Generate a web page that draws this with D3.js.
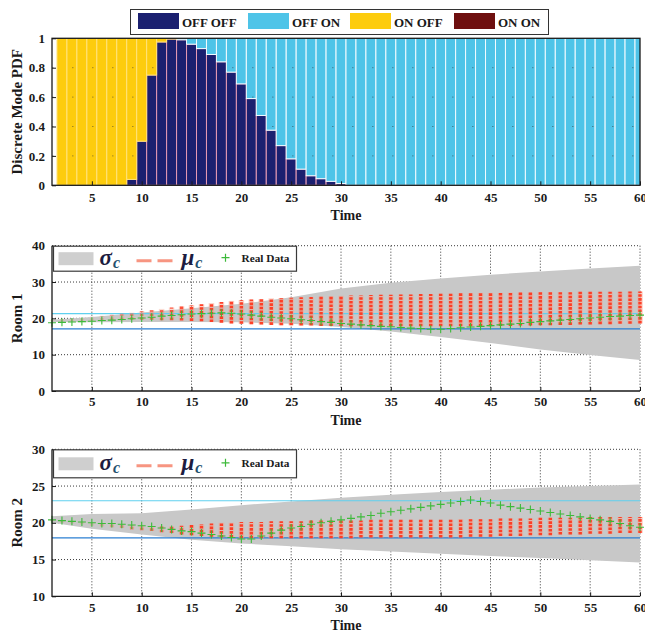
<!DOCTYPE html>
<html>
<head>
<meta charset="utf-8">
<script src="https://cdnjs.cloudflare.com/ajax/libs/d3/7.8.5/d3.min.js"></script>
<style>
  body { margin: 0; background: #fff; }
  text { font-family: "Liberation Serif", "DejaVu Serif", serif; font-weight: bold; fill: #1a1a1a; }
</style>
</head>
<body>
<div id="chart"></div>
<script>

// ---------- data : top chart (discrete mode pdf, bars at t = 2..60)
var barTime = [2,3,4,5,6,7,8,9,10,11,12,13,14,15,16,17,18,19,20,21,22,23,24,25,26,27,28,29,30,
  31,32,33,34,35,36,37,38,39,40,41,42,43,44,45,46,47,48,49,50,51,52,53,54,55,56,57,58,59,60];
var modeNames = ["OFF OFF", "OFF ON", "ON OFF", "ON ON"];
var offOff = [0,0,0,0,0,0,0,0.04,0.30,0.75,0.975,0.995,0.99,0.96,0.93,0.89,0.84,0.77,0.69,0.59,0.475,0.375,0.27,0.18,0.11,0.065,0.045,0.027,0.012,
  0,0,0,0,0,0,0,0,0,0,0,0,0,0,0,0,0,0,0,0,0,0,0,0,0,0,0,0,0,0];
var offOn = [0,0,0,0,0,0,0,0,0,0,0,0,0.01,0.04,0.07,0.11,0.16,0.23,0.31,0.41,0.525,0.625,0.73,0.82,0.89,0.935,0.955,0.973,0.988,
  1,1,1,1,1,1,1,1,1,1,1,1,1,1,1,1,1,1,1,1,1,1,1,1,1,1,1,1,1,1];
var onOff = [1,1,1,1,1,1,1,0.96,0.70,0.25,0.025,0.005,0,0,0,0,0,0,0,0,0,0,0,0,0,0,0,0,0,
  0,0,0,0,0,0,0,0,0,0,0,0,0,0,0,0,0,0,0,0,0,0,0,0,0,0,0,0,0,0];
var onOn = [0,0,0,0,0,0,0,0,0,0,0,0,0,0,0,0,0,0,0,0,0,0,0,0,0,0,0,0,0,
  0,0,0,0,0,0,0,0,0,0,0,0,0,0,0,0,0,0,0,0,0,0,0,0,0,0,0,0,0,0];

// ---------- data : room charts (t = 1..60)
var time = [1,2,3,4,5,6,7,8,9,10,11,12,13,14,15,16,17,18,19,20,21,22,23,24,25,26,27,28,29,30,
  31,32,33,34,35,36,37,38,39,40,41,42,43,44,45,46,47,48,49,50,51,52,53,54,55,56,57,58,59,60];
var xTicks = [5,10,15,20,25,30,35,40,45,50,55,60];

// sigma band read at these times
var bandTime = [1,5,10,15,20,25,30,35,40,45,50,55,60];
var sigHi1 = [19.6,20.4,21.6,22.8,24.0,25.8,28.2,29.8,31.0,32.0,32.9,33.7,34.5];
var sigLo1 = [19.0,18.9,19.0,19.0,18.9,18.5,17.6,16.4,14.9,13.2,11.4,9.9,8.5];
var sigHi2 = [20.9,21.2,21.3,21.8,22.4,22.9,23.4,23.8,24.2,24.5,24.8,25.0,25.2];
var sigLo2 = [20.0,19.2,18.4,17.7,17.2,16.8,16.4,16.1,15.8,15.5,15.2,14.9,14.6];

// spread of the mu_c dashes at every t
var muLo1 = [19.2,19.1,19.1,19.2,19.3,19.4,19.5,19.5,19.6,19.6,19.6,19.5,19.5,19.4,19.3,19.2,19.0,18.8,18.6,18.5,
  18.4,18.3,18.2,18.1,18.1,18.0,18.0,17.9,17.9,17.9,17.8,17.8,17.8,17.8,17.8,17.8,17.8,17.8,17.8,17.8,
  17.8,17.8,17.8,17.8,17.8,17.9,17.9,18.0,18.0,18.1,18.1,18.2,18.2,18.3,18.3,18.4,18.4,18.5,18.5,18.6];
var muHi1 = [19.5,19.8,20.0,20.2,20.5,20.7,21.0,21.3,21.6,22.0,22.3,22.6,23.0,23.3,23.6,23.9,24.2,24.5,24.8,25.0,
  25.2,25.3,25.5,25.6,25.7,25.8,25.9,26.0,26.1,26.2,26.3,26.3,26.4,26.5,26.5,26.6,26.6,26.7,26.7,26.8,
  26.8,26.9,26.9,27.0,27.0,27.0,27.1,27.1,27.1,27.2,27.2,27.2,27.2,27.3,27.3,27.3,27.3,27.3,27.4,27.4];
var muLo2 = [20.2,20.0,19.9,19.8,19.6,19.5,19.4,19.3,19.1,19.0,18.9,18.7,18.6,18.4,18.3,18.2,18.1,18.0,18.0,17.9,
  17.9,17.9,17.9,17.9,17.9,17.9,17.9,17.9,17.9,17.9,17.9,18.0,18.0,18.0,18.0,18.0,18.0,18.0,18.0,18.0,
  18.0,18.0,18.1,18.1,18.1,18.2,18.2,18.2,18.3,18.3,18.3,18.4,18.4,18.4,18.5,18.5,18.5,18.6,18.6,18.6];
var muHi2 = [20.4,20.4,20.3,20.2,20.1,20.0,19.9,19.8,19.7,19.6,19.5,19.5,19.5,19.6,19.7,19.8,19.9,20.0,20.0,20.1,
  20.1,20.1,20.2,20.2,20.2,20.2,20.3,20.3,20.3,20.3,20.3,20.3,20.4,20.4,20.4,20.4,20.4,20.4,20.4,20.4,
  20.4,20.5,20.5,20.5,20.5,20.6,20.6,20.6,20.6,20.7,20.7,20.7,20.7,20.7,20.8,20.8,20.8,20.8,20.8,20.8];

// measured temperatures
var real1 = [18.8,18.9,19.0,19.1,19.2,19.4,19.5,19.7,19.9,20.1,20.3,20.6,20.8,21.0,21.2,21.3,21.4,21.5,21.4,21.2,
  20.9,20.6,20.3,20.1,19.9,19.6,19.4,19.1,18.9,18.6,18.4,18.2,18.0,17.8,17.7,17.5,17.3,17.2,17.0,17.0,
  17.2,17.4,17.6,17.8,18.0,18.2,18.4,18.6,18.9,19.1,19.3,19.5,19.7,19.9,20.1,20.3,20.5,20.6,20.8,20.9];
var real2 = [20.4,20.3,20.2,20.1,20.0,19.9,19.9,19.8,19.7,19.6,19.5,19.3,19.1,18.9,18.8,18.6,18.4,18.2,18.0,17.8,
  17.8,18.2,18.6,19.0,19.3,19.5,19.8,20.0,20.2,20.4,20.6,20.8,21.0,21.3,21.5,21.7,21.9,22.1,22.3,22.5,
  22.7,22.9,23.1,22.9,22.7,22.4,22.2,22.0,21.8,21.6,21.4,21.2,21.0,20.8,20.6,20.4,20.2,19.9,19.6,19.4];

// comfort limits
var limits1 = [21.3, 17.1];
var limits2 = [23.0, 17.95];


var svg = d3.select("#chart").append("svg")
  .attr("width", 645)
  .attr("height", 635);

var x = d3.scaleLinear().domain([1, 60]).range([52, 640]);

var modeColor = d3.scaleOrdinal().domain(modeNames).range(["#1b2070", "#4ec4e8", "#fdcc0d", "#6e0f0f"]);
var modeEdge = d3.scaleOrdinal().domain(modeNames).range(["#e89ab4", "#f2fbff", "#ffe37a", "#c07070"]);

// d3.axis writes its own font attrs, so set ours after the call
function xAxis(yPos, pad) {
  var g = svg.append("g")
    .attr("transform", "translate(0," + yPos + ")")
    .call(d3.axisBottom(x).tickValues(xTicks).tickSizeInner(-4).tickSizeOuter(0).tickPadding(pad))
    .attr("font-size", 13)
    .attr("color", "#1a1a1a");
  g.select(".domain").remove();
}

function yAxis(y, ticks) {
  var g = svg.append("g")
    .attr("transform", "translate(52,0)")
    .call(d3.axisLeft(y).tickValues(ticks).tickFormat(function (d) { return String(d); })
      .tickSizeInner(-4).tickSizeOuter(0).tickPadding(7))
    .attr("font-size", 13)
    .attr("color", "#1a1a1a");
  g.select(".domain").remove();
}

function axisLabels(y, yText, xLabelY) {
  var r = y.range();
  svg.append("text")
    .attr("transform", "translate(17," + ((r[0] + r[1]) / 2) + ") rotate(-90)")
    .attr("text-anchor", "middle")
    .attr("dy", "0.35em")
    .attr("font-size", 15)
    .text(yText);
  svg.append("text")
    .attr("x", 346)
    .attr("y", xLabelY)
    .attr("dy", "0.35em")
    .attr("text-anchor", "middle")
    .attr("font-size", 14)
    .text("Time");
}

// ================= top : stacked bars =================
var yTop = d3.scaleLinear().domain([0, 1]).range([185.3, 38.3]);

var table = barTime.map(function (t, i) {
  return { time: t, "OFF OFF": offOff[i], "OFF ON": offOn[i], "ON OFF": onOff[i], "ON ON": onOn[i] };
});
var stacked = d3.stack().keys(modeNames)(table);

svg.append("clipPath").attr("id", "clipTop")
  .append("rect").attr("x", 52).attr("y", 38.3).attr("width", 588).attr("height", 147);

var bars = svg.append("g").attr("clip-path", "url(#clipTop)");
bars.selectAll("g")
  .data(stacked)
  .join("g")
  .attr("fill", function (d) { return modeColor(d.key); })
  .attr("stroke", function (d) { return modeEdge(d.key); })
  .attr("stroke-width", 1)
  .selectAll("rect")
  .data(function (d) { return d.filter(function (s) { return s[1] - s[0] > 0; }); })
  .join("rect")
  .attr("x", function (d) { return x(d.data.time - 0.5); })
  .attr("width", function (d) { return x(d.data.time + 0.5) - x(d.data.time - 0.5); })
  .attr("y", function (d) { return yTop(d[1]); })
  .attr("height", function (d) { return yTop(d[0]) - yTop(d[1]); });

// faint dotted grid over the bars
var yTopTicks = [0, 0.2, 0.4, 0.6, 0.8, 1];
svg.append("g").selectAll("line")
  .data(yTopTicks.slice(1, 5))
  .join("line")
  .attr("x1", 52).attr("x2", 640)
  .attr("y1", function (d) { return yTop(d); })
  .attr("y2", function (d) { return yTop(d); })
  .attr("stroke", "#333")
  .attr("stroke-opacity", 0.45)
  .attr("stroke-dasharray", "1.5,18.5");

svg.append("rect")
  .attr("x", 52).attr("y", 38.3).attr("width", 588).attr("height", 147)
  .attr("fill", "none").attr("stroke", "#1a1a1a").attr("stroke-width", 1.3);

xAxis(185.3, 7);
yAxis(yTop, yTopTicks);
axisLabels(yTop, "Discrete Mode PDF", 215);

// legend of the modes
svg.append("rect")
  .attr("x", 130.5).attr("y", 9.5).attr("width", 418).attr("height", 25)
  .attr("fill", "#fff").attr("stroke", "#333").attr("stroke-width", 1);
var legX = [138, 248, 350, 454];
var leg = svg.append("g").selectAll("g")
  .data(modeNames)
  .join("g")
  .attr("transform", function (d, i) { return "translate(" + legX[i] + ",13)"; });
leg.append("rect")
  .attr("width", 41).attr("height", 16)
  .attr("fill", function (d) { return modeColor(d); });
leg.append("text")
  .attr("x", 44).attr("y", 13.5)
  .attr("font-size", 13)
  .text(function (d) { return d; });

// ================= room charts =================
function drawRoom(cfg) {
  var y = d3.scaleLinear().domain(cfg.domain).range(cfg.range);
  var top = cfg.range[1], bottom = cfg.range[0];

  // dotted grid
  var grid = svg.append("g")
    .attr("stroke", "#222")
    .attr("stroke-width", 0.9)
    .attr("stroke-dasharray", "1,2");
  grid.selectAll(".v")
    .data(xTicks)
    .join("line")
    .attr("x1", function (d) { return x(d); })
    .attr("x2", function (d) { return x(d); })
    .attr("y1", top).attr("y2", bottom);
  grid.selectAll(".h")
    .data(cfg.ticks.slice(1))
    .join("line")
    .attr("x1", 52).attr("x2", 640)
    .attr("y1", function (d) { return y(d); })
    .attr("y2", function (d) { return y(d); });

  // sigma band
  var band = bandTime.map(function (t, i) { return { t: t, hi: cfg.sigHi[i], lo: cfg.sigLo[i] }; });
  svg.append("path")
    .datum(band)
    .attr("fill", "#c8c8c8")
    .attr("d", d3.area()
      .x(function (d) { return x(d.t); })
      .y0(function (d) { return y(d.lo); })
      .y1(function (d) { return y(d.hi); }));

  // limits
  svg.append("line")
    .attr("x1", 52).attr("x2", 640)
    .attr("y1", y(cfg.limits[0])).attr("y2", y(cfg.limits[0]))
    .attr("stroke", "#5fd0ef").attr("stroke-width", 1.2);
  svg.append("line")
    .attr("x1", 52).attr("x2", 640)
    .attr("y1", y(cfg.limits[1])).attr("y2", y(cfg.limits[1]))
    .attr("stroke", "#2b7fd2").attr("stroke-width", 1.4);

  // mu_c dashes, one column per step
  var cols = time.map(function (t, i) { return { t: t, lo: cfg.muLo[i], hi: cfg.muHi[i] }; });
  var fade = function (d) { return Math.min(1, Math.max(0.15, (d.t - 3) / 12)); };
  svg.append("g").selectAll("line")
    .data(cols)
    .join("line")
    .attr("x1", function (d) { return x(d.t); })
    .attr("x2", function (d) { return x(d.t); })
    .attr("y1", function (d) { return y(d.lo); })
    .attr("y2", function (d) { return y(d.hi); })
    .attr("stroke", "#f7a48e")
    .attr("stroke-width", 5.5)
    .attr("stroke-opacity", function (d) { return 0.5 * fade(d); });
  svg.append("g").selectAll("line")
    .data(cols)
    .join("line")
    .attr("x1", function (d) { return x(d.t); })
    .attr("x2", function (d) { return x(d.t); })
    .attr("y1", function (d) { return y(d.lo); })
    .attr("y2", function (d) { return y(d.hi); })
    .attr("stroke", "#ff3218")
    .attr("stroke-width", 3.4)
    .attr("stroke-dasharray", "2.6,1.2")
    .attr("stroke-opacity", function (d) { return 0.9 * fade(d); });

  // real data
  svg.append("g").selectAll("path")
    .data(cfg.real)
    .join("path")
    .attr("transform", function (d, i) { return "translate(" + x(time[i]) + "," + y(d) + ")"; })
    .attr("d", "M-4,0H4M0,-4V4")
    .attr("stroke", "#3dba3a")
    .attr("stroke-width", 1.1)
    .attr("fill", "none");

  // axes lines
  svg.append("path")
    .attr("d", "M52," + top + "V" + bottom + "H640")
    .attr("fill", "none").attr("stroke", "#1a1a1a").attr("stroke-width", 1.3);

  xAxis(bottom, cfg.pad);
  yAxis(y, cfg.ticks);
  axisLabels(y, cfg.label, cfg.timeY);

  // legend
  var lg = svg.append("g").attr("transform", "translate(53.5," + (top + 0.5) + ")");
  lg.append("rect")
    .attr("width", 243).attr("height", cfg.legH)
    .attr("fill", "#fff").attr("stroke", "#3a3a3a").attr("stroke-width", 1.2);
  var mid = cfg.legH / 2;
  lg.append("rect")
    .attr("x", 5).attr("y", mid - 6.5).attr("width", 35).attr("height", 13)
    .attr("fill", "#cfcfcf");
  var s = lg.append("text").attr("x", 46).attr("y", mid + 6).attr("font-style", "italic");
  s.append("tspan").attr("font-size", 23).attr("fill", "#1c1c40").text("σ");
  s.append("tspan").attr("font-size", 16).attr("dy", 3).attr("dx", 1).attr("fill", "#24506e").text("c");
  lg.append("line")
    .attr("x1", 83).attr("x2", 122).attr("y1", mid + 2).attr("y2", mid + 2)
    .attr("stroke", "#f57a62").attr("stroke-width", 3).attr("stroke-dasharray", "15,6").attr("stroke-opacity", 0.8);
  var m = lg.append("text").attr("x", 128).attr("y", mid + 6).attr("font-style", "italic");
  m.append("tspan").attr("font-size", 23).attr("fill", "#1c1c40").text("μ");
  m.append("tspan").attr("font-size", 16).attr("dy", 3).attr("dx", 1).attr("fill", "#24506e").text("c");
  lg.append("path")
    .attr("transform", "translate(172," + (mid - 1) + ")")
    .attr("d", "M-4,0H4M0,-4V4")
    .attr("stroke", "#3dba3a").attr("stroke-width", 1.2);
  lg.append("text")
    .attr("x", 188).attr("y", mid + 3.5)
    .attr("font-family", "Liberation Sans, Arial, sans-serif")
    .attr("font-size", 10)
    .attr("textLength", 48)
    .attr("lengthAdjust", "spacingAndGlyphs")
    .text("Real Data");
}

drawRoom({
  domain: [0, 40], range: [391, 245.7], ticks: [0, 10, 20, 30, 40],
  sigHi: sigHi1, sigLo: sigLo1, muLo: muLo1, muHi: muHi1, real: real1, limits: limits1,
  label: "Room 1", pad: 6, timeY: 420, legH: 25
});

drawRoom({
  domain: [10, 30], range: [596.3, 449.3], ticks: [10, 15, 20, 25, 30],
  sigHi: sigHi2, sigLo: sigLo2, muLo: muLo2, muHi: muHi2, real: real2, limits: limits2,
  label: "Room 2", pad: 6.5, timeY: 625.5, legH: 28
});

</script>
</body>
</html>
